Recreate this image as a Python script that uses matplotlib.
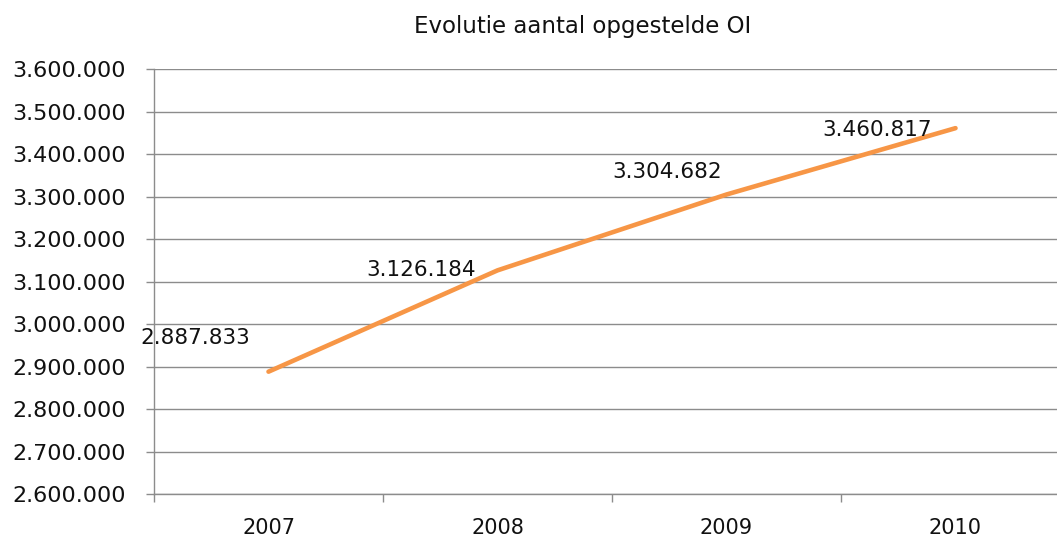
import matplotlib
matplotlib.use("Agg")
import matplotlib.pyplot as plt
from matplotlib.ticker import FuncFormatter, FixedLocator

years = ["2007", "2008", "2009", "2010"]
values = [2887833, 3126184, 3304682, 3460817]
label_offsets = [(-18, 34), (-22, 0), (-5, 23), (-24, -2)]  # pixels, label right edge vs point

ymin, ymax, ystep = 2600000, 3600000, 100000

grid_col = "#8c8c8c"
line_col = "#F79646"
text_col = "#111111"


def dots(v, pos=None):
    return f"{int(v):,}".replace(",", ".")


def main():
    fig = plt.figure(figsize=(10.57, 5.38), dpi=100)
    W, H = 1057, 538
    ax = fig.add_axes([154 / W, (H - 494) / H, (1070 - 154) / W, (494 - 69) / H])

    x = list(range(1, len(years) + 1))
    ax.plot(x, values, color=line_col, lw=3.3, solid_capstyle="round", zorder=3)

    for xi, v, (dx, dy) in zip(x, values, label_offsets):
        ax.annotate(dots(v), xy=(xi, v), xytext=(dx, dy), textcoords="offset pixels",
                    ha="right", va="center", fontsize=15.5, color=text_col, zorder=4)

    ax.set_xlim(0.5, len(years) + 0.5)
    ax.set_ylim(ymin, ymax)
    ax.set_yticks(range(ymin, ymax + 1, ystep))
    ax.yaxis.set_major_formatter(FuncFormatter(dots))
    ax.grid(axis="y", color=grid_col, lw=1)
    ax.set_axisbelow(True)

    ax.set_xticks(x)
    ax.set_xticklabels(years)
    ax.xaxis.set_minor_locator(FixedLocator([i + 0.5 for i in range(len(years) + 1)]))
    ax.tick_params(axis="x", which="major", length=0, pad=17, labelsize=15, labelcolor=text_col)
    ax.tick_params(axis="x", which="minor", length=6, width=1, color=grid_col, direction="out")
    ax.tick_params(axis="y", length=6, width=1, color=grid_col, pad=14,
                   labelsize=16, labelcolor=text_col)

    for s in ["top", "right"]:
        ax.spines[s].set_visible(False)
    for s in ["left", "bottom"]:
        ax.spines[s].set_color(grid_col)
        ax.spines[s].set_linewidth(1)

    fig.text(583 / W, 1 - 27 / H, "Evolutie aantal opgestelde OI", ha="center", va="center",
             fontsize=16.5, color=text_col)

    fig.savefig("out.png", dpi=100)


if __name__ == "__main__":
    main()
